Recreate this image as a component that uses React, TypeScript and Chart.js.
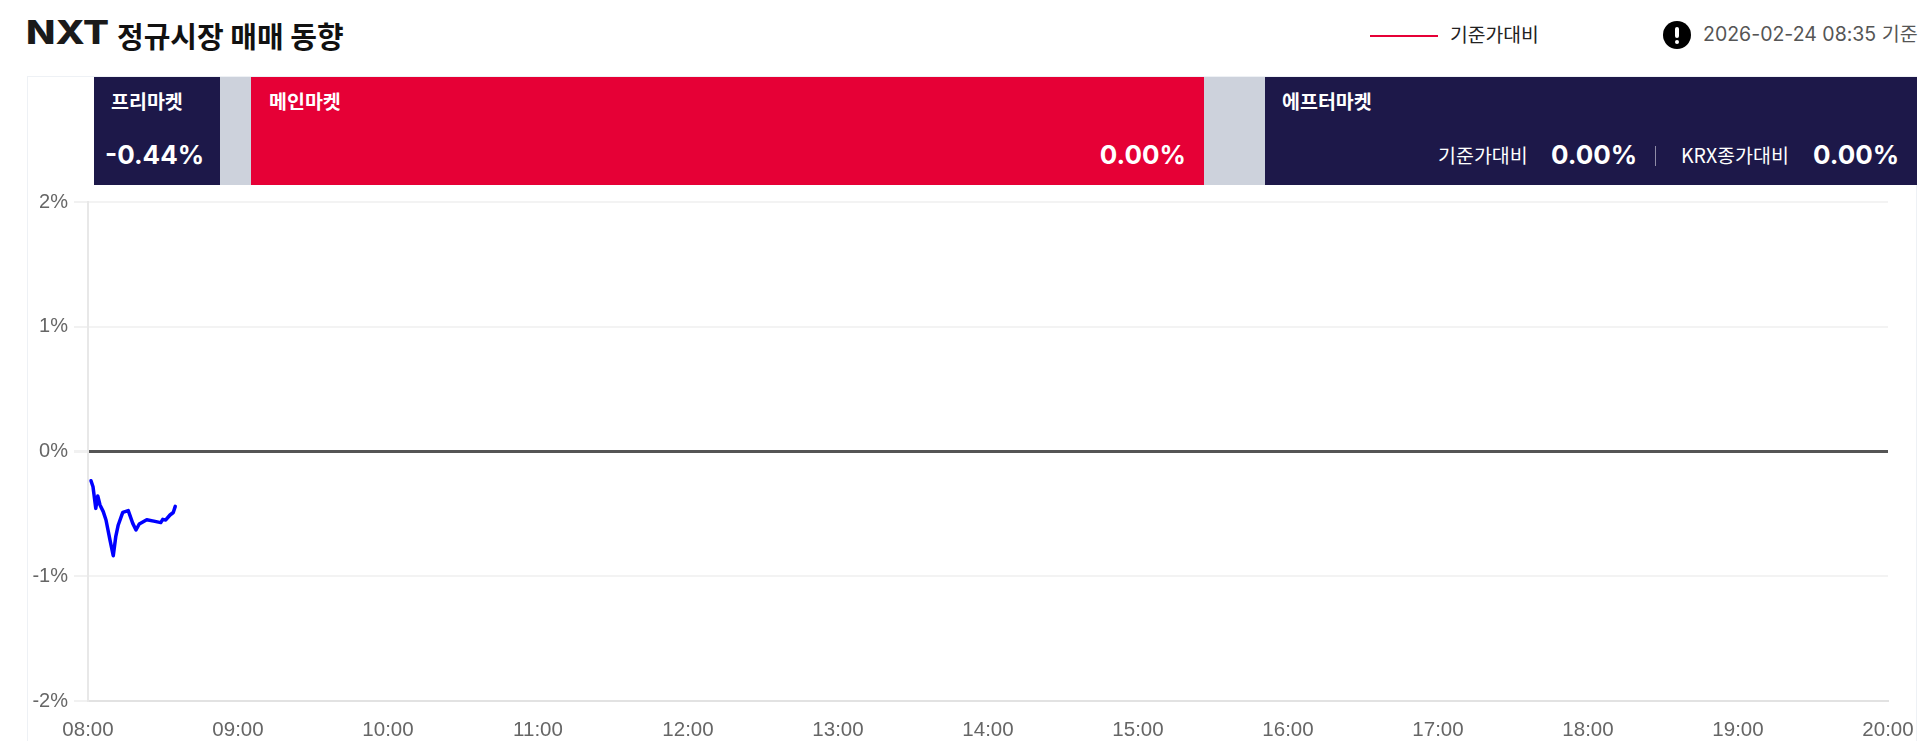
import React, { useEffect, useRef } from "react";
import { Chart, registerables } from "chart.js";

Chart.register(...registerables);

const minutes = [1.2, 2, 3.1, 3.9, 4.8, 6.1, 7.2, 8.8, 10.1, 11.1, 12.1, 13.9, 16.1, 17.9, 19.2, 20.5, 23.5, 26.8, 29.1, 29.9, 31.1, 32.8, 34.1, 34.9];
const changes = [-0.234, -0.282, -0.456, -0.357, -0.429, -0.482, -0.549, -0.71, -0.835, -0.683, -0.589, -0.488, -0.474, -0.576, -0.629, -0.581, -0.547, -0.56, -0.57, -0.544, -0.549, -0.509, -0.489, -0.44];
const timeLabels = ["08:00", "09:00", "10:00", "11:00", "12:00", "13:00", "14:00", "15:00", "16:00", "17:00", "18:00", "19:00", "20:00"];
const seriesName = "기준가대비";

const KR = "'Noto Sans CJK KR', 'Noto Sans', sans-serif";
const NUM = "Inter, 'Noto Sans CJK KR', sans-serif";
const NAVY = "#1d1849";
const RED = "#e60036";
const GAP = "#cdd2dc";

const abs = (s: React.CSSProperties): React.CSSProperties => ({ position: "absolute", whiteSpace: "nowrap", ...s });

function Band({ left, right, color }: { left: number; right: number; color: string }) {
  return <div style={abs({ left, width: right - left, top: 77, height: 108, background: color })} />;
}
function Lbl({ x, y, size = 19.5, weight = 700, color = "#fff", font = KR, alignRight = false, extra = {}, children }: any) {
  const s: React.CSSProperties = { top: y, transform: "translateY(-50%)", fontFamily: font, fontSize: size, fontWeight: weight, color, lineHeight: 1, ...extra };
  if (alignRight) s.right = 1920 - x; else s.left = x;
  return <div style={abs(s)}>{children}</div>;
}

export default function App() {
  const ref = useRef<HTMLCanvasElement>(null);
  useEffect(() => {
    document.body.style.margin = "0";
    document.body.style.overflow = "hidden";
    const chart = new Chart(ref.current!, {
      type: "line",
      data: {
        datasets: [{
          label: seriesName,
          data: minutes.map((m, i) => ({ x: m, y: changes[i] })),
          borderColor: "#0000ff",
          borderWidth: 3.5,
          borderJoinStyle: "round",
          borderCapStyle: "round",
          pointRadius: 0,
          tension: 0,
          fill: false,
        }],
      },
      options: {
        responsive: false,
        animation: false,
        devicePixelRatio: 1,
        layout: { padding: { top: 202, right: 32, left: 0, bottom: 0 } },
        plugins: { legend: { display: false }, tooltip: { enabled: false } },
        scales: {
          x: {
            type: "linear",
            min: 0,
            max: 720,
            afterFit: (s: any) => { s.height = 40; s.paddingLeft = 0; s.paddingRight = 0; },
            afterBuildTicks: (s: any) => { s.ticks = timeLabels.map((_, i) => ({ value: i * 60 })); },
            ticks: {
              autoSkip: false,
              maxRotation: 0,
              padding: 17,
              color: "#666",
              font: { family: "'Liberation Sans', Arial, sans-serif", size: 20.5 },
              callback: (v: any) => timeLabels[Math.round(Number(v) / 60)],
            },
            grid: { drawOnChartArea: false, drawTicks: false },
            border: { color: "#e2e2e2", width: 2 },
          },
          y: {
            min: -2,
            max: 2,
            afterFit: (s: any) => { s.width = 88; s.paddingTop = 0; s.paddingBottom = 0; },
            ticks: {
              stepSize: 1,
              padding: 6,
              color: "#666",
              font: { family: "'Liberation Sans', Arial, sans-serif", size: 20 },
              callback: (v: any) => `${v}%`,
            },
            grid: {
              tickLength: 14,
              tickColor: "#f1f1f1",
              color: (c: any) => (c.tick?.value === 0 ? "#555555" : "#f3f3f3"),
              lineWidth: (c: any) => (c.tick?.value === 0 ? 3 : 2),
            },
            border: { color: "#e8e8e8", width: 2 },
          },
        },
      },
    });
    return () => chart.destroy();
  }, []);

  return (
    <div style={{ position: "relative", width: 1920, height: 741, overflow: "hidden", background: "#fff" }}>
      <div style={abs({ left: 27, top: 76, width: 1890, height: 700, boxSizing: "border-box", border: "1px solid #eef1f5" })} />
      <Lbl x={26} y={33} size={32} weight={800} color="#1a1a1a" font={NUM} extra={{ transform: "translateY(-50%) scaleX(1.2)", transformOrigin: "left center" }}>NXT</Lbl>
      <Lbl x={117} y={35} size={29} weight={700} color="#111">정규시장 매매 동향</Lbl>

      <div style={abs({ left: 1370, width: 68, top: 35, height: 2, background: RED })} />
      <Lbl x={1450} y={35} size={19.3} weight={400} color="#222">{seriesName}</Lbl>
      <div style={abs({ left: 1663, top: 21, width: 28, height: 28, borderRadius: "50%", background: "#000" })}>
        <div style={abs({ left: 12, top: 6, width: 4, height: 11, background: "#fff", borderRadius: 2 })} />
        <div style={abs({ left: 12, top: 19, width: 4, height: 4, background: "#fff", borderRadius: 2 })} />
      </div>
      <Lbl x={1703} y={35} size={19.5} weight={400} color="#555" font={NUM}>2026-02-24 08:35 기준</Lbl>

      <Band left={94} right={220} color={NAVY} />
      <Band left={220} right={251} color={GAP} />
      <Band left={251} right={1204} color={RED} />
      <Band left={1204} right={1265} color={GAP} />
      <Band left={1265} right={1917} color={NAVY} />

      <Lbl x={111} y={101}>프리마켓</Lbl>
      <Lbl x={105} y={155} size={26} font={NUM}>-0.44%</Lbl>
      <Lbl x={269} y={101}>메인마켓</Lbl>
      <Lbl x={1186} y={155} size={26} font={NUM} alignRight>0.00%</Lbl>
      <Lbl x={1282} y={101}>에프터마켓</Lbl>
      <Lbl x={1438} y={155} weight={400}>기준가대비</Lbl>
      <Lbl x={1551} y={155} size={26} font={NUM}>0.00%</Lbl>
      <div style={abs({ left: 1655, top: 146, width: 1, height: 20, background: "#8f8ca6" })} />
      <Lbl x={1681} y={155} weight={400}>KRX종가대비</Lbl>
      <Lbl x={1813} y={155} size={26} font={NUM}>0.00%</Lbl>

      <canvas ref={ref} width={1920} height={741} style={{ position: "absolute", left: 0, top: 0, display: "block" }} />
    </div>
  );
}
